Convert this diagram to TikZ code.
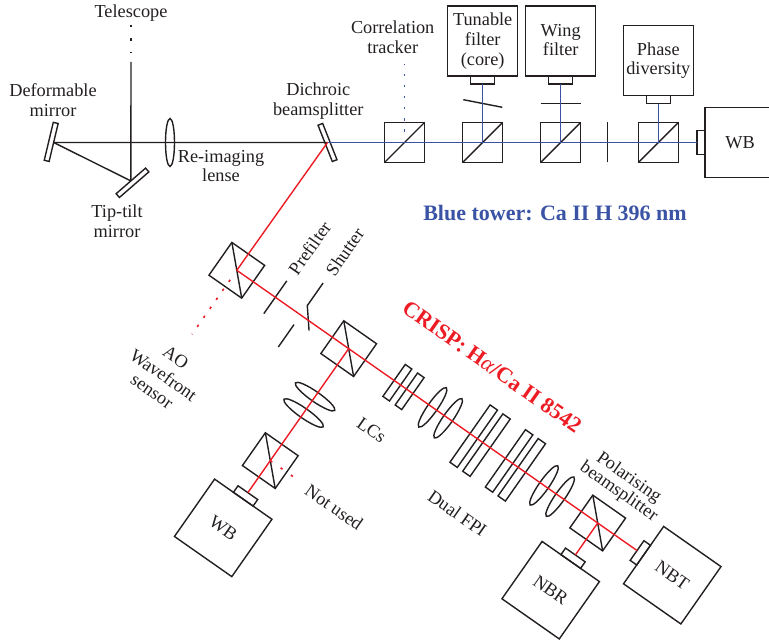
\documentclass[tikz,border=0pt]{standalone}
\usepackage{fontspec}
\setmainfont{Liberation Serif}
\usetikzlibrary{shapes.geometric}
\definecolor{inkgray}{HTML}{231F20}
\definecolor{towerblue}{HTML}{3A53A4}
\definecolor{crispred}{HTML}{ED1C24}
\tikzset{
  txt/.style={inner sep=0pt, outer sep=0pt, align=center, text=inkgray, font=\fontsize{18.3}{19.8}\selectfont},
  part/.style={draw=inkgray, line width=1.4pt, inner sep=0pt, outer sep=0pt},
  cube/.style={part, minimum width=40pt, minimum height=40pt},
  camera/.style={part, minimum width=70pt, minimum height=70pt},
  camtab/.style={part, minimum width=24pt, minimum height=8pt},
  mirrorbar/.style={part, minimum width=5pt, minimum height=39pt},
  lens/.style={part, ellipse, minimum width=9pt, minimum height=48pt},
  thinplate/.style={part, minimum width=8pt, minimum height=39pt},
  fpiplate/.style={part, minimum width=9pt, minimum height=70pt},
  optic/.style={draw=inkgray, line width=1.4pt},
  blackbeam/.style={draw=inkgray, line width=1.4pt},
  bluebeam/.style={draw=towerblue, line width=1.4pt},
  redbeam/.style={draw=crispred, line width=1.4pt},
}
\begin{document}
\begin{tikzpicture}[x=1pt, y=1pt]
  \useasboundingbox (0,0) rectangle (769,642);
  % Feed optics
  \node[mirrorbar, rotate=-13.4] (deform) at (51.2,500.1) {};
  \node[mirrorbar, rotate=-49] (tiptilt) at (132.5,459.2) {};
  \node[lens] (relens) at (170,499.5) {};
  \node[mirrorbar, rotate=21.5] (dichroic) at (327.5,499.5) {};
  \coordinate (telescopedots) at (131,617);
  \coordinate (telescopegap) at (131,590);
  \coordinate (telescopebeam) at (131,580);
  \draw[blackbeam, line width=1.6pt, dash pattern=on 2.4pt off 10.9pt] (telescopedots) -- (telescopegap);
  \draw[blackbeam] (telescopebeam) -- (tiptilt.west);
  \draw[blackbeam] (tiptilt.west) -- (deform.east);
  \draw[blackbeam] (deform.east) -- (dichroic.center);
  % Blue tower
  \node[cube] (ct) at (404.5,499.5) {};
  \node[cube] (coresplit) at (482.7,499.5) {};
  \node[cube] (wingsplit) at (560.7,499.5) {};
  \node[cube] (phasesplit) at (658.3,499.5) {};
  \draw[optic] (ct.south west) -- (ct.north east);
  \draw[optic] (coresplit.south west) -- (coresplit.north east);
  \draw[optic] (wingsplit.south west) -- (wingsplit.north east);
  \draw[optic] (phasesplit.south west) -- (phasesplit.north east);
  \node[camera] (core) at (482.7,601) {};
  \node[camtab, anchor=north] (coretab) at (core.south) {};
  \node[camera] (wing) at (560.7,601) {};
  \node[camtab, anchor=north] (wingtab) at (wing.south) {};
  \node[camera] (phase) at (658.3,581.3) {};
  \node[camtab, anchor=north] (phasetab) at (phase.south) {};
  \node[camera] (wbblue) at (740,499.5) {};
  \node[camtab, rotate=90, anchor=south] (wbbluetab) at (wbblue.west) {};
  \draw[optic] (463.3,542.3) -- (502.3,534.7);
  \draw[optic] (540.7,538.7) -- (580.7,538.7);
  \draw[optic] (607.7,479.7) -- (607.7,519.7);
  \coordinate (ctdots) at (404.5,510.3);
  \coordinate (cttop) at (404.5,578);
  \draw[bluebeam, line width=1.6pt, dash pattern=on 2.4pt off 8.7pt] (ctdots) -- (cttop);
  \draw[bluebeam] (dichroic.center) -- (wbbluetab.north);
  \draw[bluebeam] (coresplit.center) -- (coretab.south);
  \draw[bluebeam] (wingsplit.center) -- (wingtab.south);
  \draw[bluebeam] (phasesplit.center) -- (phasetab.south);
  % Labels, feed optics and blue tower
  \node[txt] at (131,628.5) {Telescope};
  \node[txt] at (53,541.5) {Deformable\\mirror};
  \node[txt] at (318.3,540.5) {Dichroic\\beamsplitter};
  \node[txt] at (117,421) {Tip-tilt\\mirror};
  \node[txt] at (221,476) {Re-imaging\\lense};
  \node[txt] at (392.7,605) {Correlation\\tracker};
  \node[txt] at (core) {Tunable\\filter\\(core)};
  \node[txt, yshift=1pt] at (wing) {Wing\\filter};
  \node[txt] at (phase) {Phase\\diversity};
  \node[txt] at (wbblue) {WB};
  \node[txt, text=towerblue, font=\fontsize{22}{24}\selectfont\bfseries] at (555,429) {Blue tower: Ca II H 396 nm};
  % CRISP arm, x runs along the beam
  \begin{scope}[shift={(236.8,371.7)}, rotate=-35, transform shape]
    \node[cube] (ao) at (0,0) {};
    \node[cube] (wbsplit) at (136.6,0) {};
    \node[cube] (unused) at (136.6,-136.7) {};
    \node[cube] (pbs) at (440.6,0) {};
    \draw[optic] (ao.north west) -- (ao.south east);
    \draw[optic] (wbsplit.north west) -- (wbsplit.south east);
    \draw[optic] (unused.north west) -- (unused.south east);
    \draw[optic] (pbs.north west) -- (pbs.south east);
    \draw[optic] (47,-20) -- (47,20);
    \draw[optic] (78,39) -- (78,11.5) -- (93.8,-8);
    \draw[optic] (78,-39) -- (78,-11.7);
    \node[thinplate] (lca) at (196,0) {};
    \node[thinplate] (lcb) at (211,0) {};
    \node[lens, minimum width=10pt] (lensa) at (239,0) {};
    \node[lens, minimum width=10pt] (lensb) at (258,0) {};
    \node[fpiplate] (fpia) at (289.2,0) {};
    \node[fpiplate] (fpib) at (304.8,0) {};
    \node[fpiplate] (fpic) at (332.4,0) {};
    \node[fpiplate] (fpid) at (347.9,0) {};
    \node[lens, minimum width=10pt] (lensc) at (375,0) {};
    \node[lens, minimum width=10pt] (lensd) at (394.7,0) {};
    \node[lens, minimum width=10pt, rotate=90] (wblensa) at (136.6,-58.6) {};
    \node[lens, minimum width=10pt, rotate=90] (wblensb) at (136.6,-78.6) {};
    \node[camera] (wbred) at (136.6,-218.8) {};
    \node[camtab, anchor=south] (wbredtab) at (wbred.north) {};
    \node[camera] (nbr) at (440.6,-82) {};
    \node[camtab, anchor=south] (nbrtab) at (nbr.north) {};
    \node[camera] (nbt) at (531.6,0) {};
    \node[camtab, rotate=90, anchor=south] (nbttab) at (nbt.west) {};
    \coordinate (aodots) at (0,-11.6);
    \coordinate (aoend) at (0,-78);
    \coordinate (unusedend) at (174,-136.7);
    \draw[redbeam, line width=1.6pt, dash pattern=on 2.4pt off 8.6pt] (aodots) -- (aoend);
    \draw[redbeam, line width=1.6pt, dash pattern=on 2.4pt off 10.2pt] (unused.center) -- (unusedend);
    \draw[redbeam] (dichroic.center) -- (ao.center);
    \draw[redbeam] (ao.center) -- (nbttab.north);
    \draw[redbeam] (wbsplit.center) -- (wbredtab.north);
    \draw[redbeam] (pbs.center) -- (nbrtab.north);
    % Labels
    \node[txt] at (0,-127) {AO\\[2pt]Wavefront\\sensor};
    \node[txt, rotate=90] at (47,60) {Prefilter};
    \node[txt, rotate=90] at (78,77) {Shutter};
    \node[txt] at (202,-53.4) {LCs};
    \node[txt] at (320,-72.4) {Dual FPI};
    \node[txt] at (215.7,-138.3) {Not used};
    \node[txt] at (wbred) {WB};
    \node[txt] at (nbr) {NBR};
    \node[txt] at (nbt) {NBT};
    \node[txt, font=\fontsize{18.3}{17.5}\selectfont] at (440,46) {Polarising\\beamsplitter};
    \node[txt, text=crispred, font=\fontsize{22}{24}\selectfont\bfseries] at (264.5,67.3) {CRISP: H{\mdseries\itshape α}/Ca II 8542};
  \end{scope}
\end{tikzpicture}
\end{document}
